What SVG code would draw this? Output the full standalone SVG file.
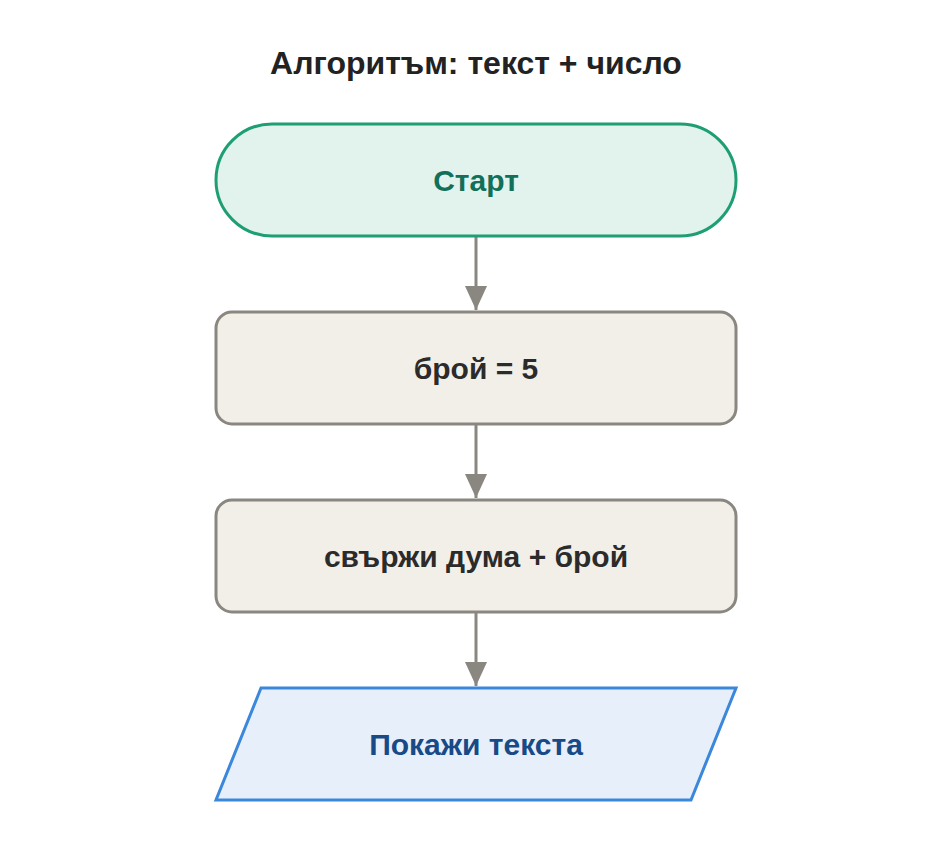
<svg xmlns="http://www.w3.org/2000/svg" width="952" height="864" viewBox="0 0 952 864">
<style>
text{font-family:"Liberation Sans",Arial,sans-serif;font-weight:bold;text-anchor:middle;dominant-baseline:central}
.proc{fill:#f2efe9;stroke:#8a8780;stroke-width:3}
.ptxt{font-size:30px;fill:#2b2b2b}
.conn{stroke:#8a8780;stroke-width:3;fill:none}
</style>
<defs><marker id="ah" markerWidth="24" markerHeight="32" viewBox="0 0 24 32" refX="24" refY="11" orient="auto" markerUnits="userSpaceOnUse"><path d="M0,0 L24,11 L0,22 z" fill="#8a8780"/></marker></defs>
<rect width="952" height="864" fill="#fff"/>
<text x="476" y="63" font-size="32" fill="#222">Алгоритъм: текст + число</text>
<g id="connectors">
<line class="conn" x1="476" y1="236" x2="476" y2="310" marker-end="url(#ah)"/>
<line class="conn" x1="476" y1="424" x2="476" y2="498" marker-end="url(#ah)"/>
<line class="conn" x1="476" y1="612" x2="476" y2="686" marker-end="url(#ah)"/>
</g>
<g id="start"><rect x="216" y="124" width="520" height="112" rx="56" fill="#e1f3ec" stroke="#1e9e74" stroke-width="3"/><text x="476" y="180" font-size="30" fill="#12705a">Старт</text></g>
<g id="n1"><rect class="proc" x="216" y="312" width="520" height="112" rx="16"/><text class="ptxt" x="476" y="368">брой = 5</text></g>
<g id="n2"><rect class="proc" x="216" y="500" width="520" height="112" rx="16"/><text class="ptxt" x="476" y="556">свържи дума + брой</text></g>
<g id="out"><polygon points="261,688 736,688 691,800 216,800" fill="#e6effa" stroke="#3a87dc" stroke-width="3"/><text x="476" y="744" font-size="30" fill="#174a86">Покажи текста</text></g>
</svg>
